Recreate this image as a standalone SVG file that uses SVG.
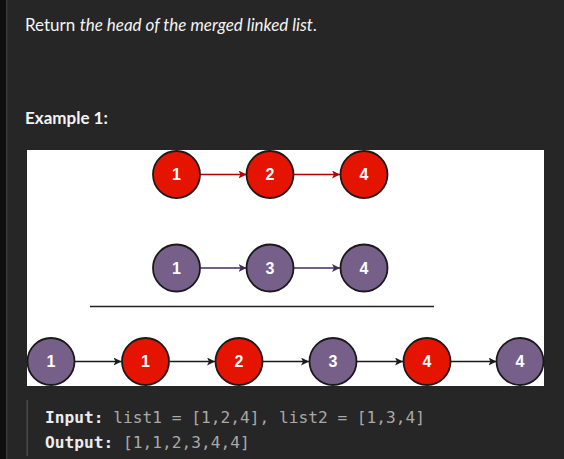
<svg xmlns="http://www.w3.org/2000/svg" width="564" height="459" viewBox="0 0 564 459">
<defs>
<style>
.bg{fill:#262626}
.t{font-family:Lato,"Open Sans","Liberation Sans",sans-serif;font-size:17px;fill:#f4f4f4}
.mono{font-family:"DejaVu Sans Mono","Liberation Mono",monospace;font-size:16.2px;fill:#a9a9a9}
.mb{font-weight:bold;fill:#ececec}
.red circle{fill:#e51400;stroke:#1a1a1a;stroke-width:1.8}
.pur circle{fill:#76608a;stroke:#1a1a1a;stroke-width:1.8}
.node text{font-family:"Liberation Sans",Arial,sans-serif;font-weight:bold;font-size:16px;fill:#ffffff;text-anchor:middle}
.ar{stroke:#b20000;stroke-width:1.3;fill:none;marker-end:url(#mr)}
.ap{stroke:#432d57;stroke-width:1.3;fill:none;marker-end:url(#mp)}
.ab{stroke:#1a1a1a;stroke-width:1.3;fill:none;marker-end:url(#mb)}
</style>
<marker id="mr" markerWidth="9" markerHeight="8" refX="8" refY="4" orient="auto" markerUnits="userSpaceOnUse"><path d="M0,0 L8,4 L0,8 L2,4 Z" fill="#b20000"/></marker>
<marker id="mp" markerWidth="9" markerHeight="8" refX="8" refY="4" orient="auto" markerUnits="userSpaceOnUse"><path d="M0,0 L8,4 L0,8 L2,4 Z" fill="#432d57"/></marker>
<marker id="mb" markerWidth="9" markerHeight="8" refX="8" refY="4" orient="auto" markerUnits="userSpaceOnUse"><path d="M0,0 L8,4 L0,8 L2,4 Z" fill="#1a1a1a"/></marker>
</defs>
<rect class="bg" x="0" y="0" width="564" height="459"/>
<rect x="0" y="0" width="6" height="459" fill="#0e0e0e"/>
<rect x="6" y="0" width="1.3" height="459" fill="#3c3c3c"/>

<text class="t" x="25" y="31">Return <tspan font-style="italic">the head of the merged linked list</tspan>.</text>
<text class="t" x="25" y="124" font-weight="bold">Example 1:</text>

<rect x="27" y="150" width="517" height="236" fill="#ffffff"/>
<line x1="90" y1="306.5" x2="434" y2="306.5" stroke="#222" stroke-width="1.5"/>

<g id="connectors">
<line class="ar" x1="200.5" y1="174.5" x2="246.5" y2="174.5"/>
<line class="ar" x1="294" y1="174.5" x2="340" y2="174.5"/>
<line class="ap" x1="200.5" y1="268" x2="246.5" y2="268"/>
<line class="ap" x1="294" y1="268" x2="340" y2="268"/>
<line class="ab" x1="75" y1="361.5" x2="121.5" y2="361.5"/>
<line class="ab" x1="169.5" y1="361.5" x2="215" y2="361.5"/>
<line class="ab" x1="263" y1="361.5" x2="309" y2="361.5"/>
<line class="ab" x1="357" y1="361.5" x2="403" y2="361.5"/>
<line class="ab" x1="451" y1="361.5" x2="496.5" y2="361.5"/>
</g>

<g id="a1" class="node red"><circle cx="176.5" cy="174.5" r="23.5"/><text x="176.5" y="180">1</text></g>
<g id="a2" class="node red"><circle cx="270" cy="174.5" r="23.5"/><text x="270" y="180">2</text></g>
<g id="a3" class="node red"><circle cx="364" cy="174.5" r="23.5"/><text x="364" y="180">4</text></g>

<g id="b1" class="node pur"><circle cx="176.5" cy="268" r="23.5"/><text x="176.5" y="273.5">1</text></g>
<g id="b2" class="node pur"><circle cx="270" cy="268" r="23.5"/><text x="270" y="273.5">3</text></g>
<g id="b3" class="node pur"><circle cx="364" cy="268" r="23.5"/><text x="364" y="273.5">4</text></g>

<g id="m1" class="node pur"><circle cx="51" cy="361.5" r="23.5"/><text x="51" y="367">1</text></g>
<g id="m2" class="node red"><circle cx="145.5" cy="361.5" r="23.5"/><text x="145.5" y="367">1</text></g>
<g id="m3" class="node red"><circle cx="239" cy="361.5" r="23.5"/><text x="239" y="367">2</text></g>
<g id="m4" class="node pur"><circle cx="333" cy="361.5" r="23.5"/><text x="333" y="367">3</text></g>
<g id="m5" class="node red"><circle cx="427" cy="361.5" r="23.5"/><text x="427" y="367">4</text></g>
<g id="m6" class="node pur"><circle cx="520" cy="361.5" r="23.5"/><text x="520" y="367">4</text></g>

<rect x="26.5" y="400" width="1.5" height="56" fill="#4a4a4a"/>
<text class="mono" x="45" y="423"><tspan class="mb">Input:</tspan> list1 = [1,2,4], list2 = [1,3,4]</text>
<text class="mono" x="45" y="448"><tspan class="mb">Output:</tspan> [1,1,2,3,4,4]</text>
</svg>
